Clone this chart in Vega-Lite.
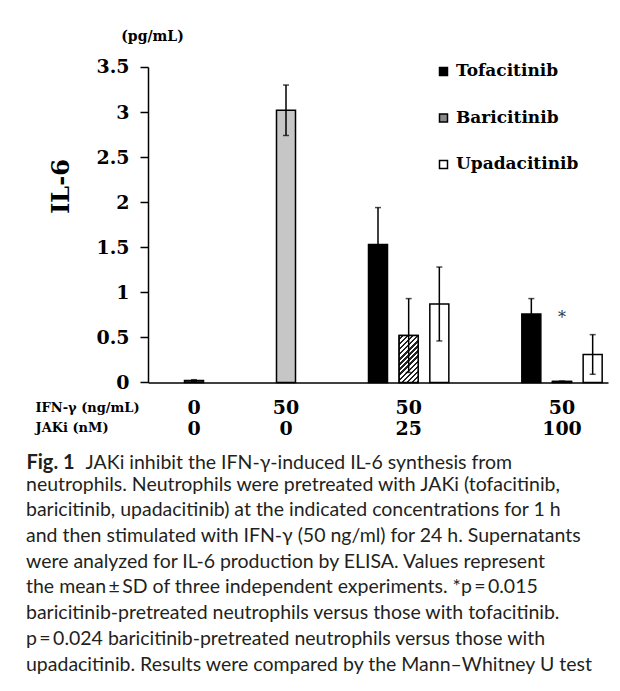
{
  "$schema": "https://vega.github.io/schema/vega-lite/v6.json",
  "width": 460,
  "height": 315.4,
  "padding": {"left": 26, "top": 30, "right": 12, "bottom": 5},
  "background": "white",
  "config": {"view": {"stroke": null}},
  "title": {
    "text": [
      "neutrophils. Neutrophils were pretreated with JAKi (tofacitinib,",
      "baricitinib, upadacitinib) at the indicated concentrations for 1 h",
      "and then stimulated with IFN-γ (50 ng/ml) for 24 h. Supernatants",
      "were analyzed for IL-6 production by ELISA. Values represent",
      "the mean\u2009±\u2009SD of three independent experiments. *p\u2009=\u20090.015",
      "baricitinib-pretreated neutrophils versus those with tofacitinib.",
      "p\u2009=\u20090.024 baricitinib-pretreated neutrophils versus those with",
      "upadacitinib. Results were compared by the Mann–Whitney U test"
    ],
    "orient": "bottom",
    "anchor": "start",
    "frame": "bounds",
    "offset": 3,
    "font": "Lato",
    "fontSize": 19.5,
    "fontWeight": "normal",
    "color": "#231f20",
    "lineHeight": 25.7,
    "limit": 1000
  },
  "data": {
    "values": [
      {"bar": "Control", "drug": "Control", "value": 0.02, "sd": 0.01},
      {"bar": "IFN-γ", "drug": "IFN-γ only", "value": 3.02, "sd": 0.28},
      {"bar": "25 nM Tofacitinib", "drug": "Tofacitinib", "value": 1.53, "sd": 0.41},
      {"bar": "25 nM Baricitinib", "drug": "Baricitinib", "value": 0.52, "sd": 0.41},
      {"bar": "25 nM Upadacitinib", "drug": "Upadacitinib", "value": 0.87, "sd": 0.41},
      {"bar": "100 nM Tofacitinib", "drug": "Tofacitinib", "value": 0.76, "sd": 0.17},
      {"bar": "100 nM Baricitinib", "drug": "Baricitinib", "value": 0.01, "sd": 0.005},
      {"bar": "100 nM Upadacitinib", "drug": "Upadacitinib", "value": 0.31, "sd": 0.22}
    ]
  },
  "resolve": {"scale": {"y": "shared", "x": "shared"}, "axis": {"y": "independent"}},
  "layer": [
    {
      "mark": {"type": "bar", "stroke": "black", "strokeWidth": 1.5},
      "encoding": {
        "x": {
          "field": "bar", "type": "nominal",
          "scale": {"type": "band", "domain": ["gap0", "Control", "gap2", "gap3", "IFN-γ", "gap5", "gap6", "25 nM Tofacitinib", "25 nM Baricitinib", "25 nM Upadacitinib", "gap10", "gap11", "100 nM Tofacitinib", "100 nM Baricitinib", "100 nM Upadacitinib"], "paddingInner": 0.38, "paddingOuter": 0.19},
          "axis": {
            "title": ["IFN-γ (ng/mL)", "JAKi (nM)"],
            "titleFont": "DejaVu Serif", "titleFontWeight": "bold", "titleFontSize": 13, "titleColor": "black",
            "titleAngle": 0, "titleAlign": "left", "titleBaseline": "top", "titleX": -113, "titleY": 19, "titleLineHeight": 20,
            "labelExpr": "datum.value === 'Control' ? ['0','0'] : datum.value === 'IFN-γ' ? ['50','0'] : datum.value === '25 nM Baricitinib' ? ['50','25'] : datum.value === '100 nM Baricitinib' ? ['50','100'] : ''",
            "labelAngle": 0, "labelFont": "DejaVu Serif", "labelFontWeight": "bold", "labelFontSize": 19, "labelColor": "black",
            "labelLineHeight": 21, "labelPadding": 16, "labelOverlap": false, "labelBound": false,
            "ticks": false, "domainColor": "black", "domainWidth": 1.5, "grid": false
          }
        },
        "y": {
          "field": "value", "type": "quantitative",
          "scale": {"domain": [0, 3.5], "nice": false, "zero": true},
          "axis": {
            "values": [0, 0.5, 1, 1.5, 2, 2.5, 3, 3.5], "format": "~g", "grid": false,
            "labelFont": "DejaVu Serif", "labelFontWeight": "bold", "labelFontSize": 19, "labelColor": "black", "labelPadding": 11,
            "tickSize": 8, "tickWidth": 1.5, "tickColor": "black", "domainColor": "black", "domainWidth": 1.5,
            "title": "(pg/mL)", "titleFont": "DejaVu Serif", "titleFontWeight": "bold", "titleFontSize": 14, "titleColor": "black",
            "titleAngle": 0, "titleX": 4, "titleY": -30, "titleAlign": "center", "titleBaseline": "middle"
          }
        },
        "fill": {
          "condition": [
            {"test": "datum.drug === 'Control'", "value": "#404040"},
            {"test": "datum.drug === 'IFN-γ only'", "value": "#c6c6c6"}
          ],
          "field": "drug", "type": "nominal",
          "scale": {"domain": ["Tofacitinib", "Baricitinib", "Upadacitinib"], "range": ["black", "#8a8a8a", "white"]},
          "legend": {
            "title": null, "orient": "none", "legendX": 287, "legendY": -4, "padding": 0,
            "symbolType": "square", "symbolSize": 64,
            "labelFont": "DejaVu Serif", "labelFontWeight": "bold", "labelFontSize": 17, "labelColor": "black",
            "labelOffset": 4, "rowPadding": 28.5, "labelLimit": 300,
            "encode": {
              "symbols": {
                "update": {
                  "stroke": {"value": "black"},
                  "strokeWidth": {"value": 1.2}
                }
              }
            }
          }
        }
      }
    },
    {
      "transform": [{"filter": "datum.drug === 'Baricitinib'"}],
      "mark": {"type": "bar", "stroke": "black", "strokeWidth": 1.5,
        "fill": {"gradient": "linear", "x1": 0, "y1": 0, "x2": 0.489, "y2": 1.207, "stops": [
          {"offset": 0, "color": "white"}, {"offset": 0.0423, "color": "white"}, {"offset": 0.0423, "color": "#222"}, {"offset": 0.0769, "color": "#222"},
          {"offset": 0.0769, "color": "white"}, {"offset": 0.1192, "color": "white"}, {"offset": 0.1192, "color": "#222"}, {"offset": 0.1538, "color": "#222"},
          {"offset": 0.1538, "color": "white"}, {"offset": 0.1962, "color": "white"}, {"offset": 0.1962, "color": "#222"}, {"offset": 0.2308, "color": "#222"},
          {"offset": 0.2308, "color": "white"}, {"offset": 0.2731, "color": "white"}, {"offset": 0.2731, "color": "#222"}, {"offset": 0.3077, "color": "#222"},
          {"offset": 0.3077, "color": "white"}, {"offset": 0.35, "color": "white"}, {"offset": 0.35, "color": "#222"}, {"offset": 0.3846, "color": "#222"},
          {"offset": 0.3846, "color": "white"}, {"offset": 0.4269, "color": "white"}, {"offset": 0.4269, "color": "#222"}, {"offset": 0.4615, "color": "#222"},
          {"offset": 0.4615, "color": "white"}, {"offset": 0.5038, "color": "white"}, {"offset": 0.5038, "color": "#222"}, {"offset": 0.5385, "color": "#222"},
          {"offset": 0.5385, "color": "white"}, {"offset": 0.5808, "color": "white"}, {"offset": 0.5808, "color": "#222"}, {"offset": 0.6154, "color": "#222"},
          {"offset": 0.6154, "color": "white"}, {"offset": 0.6577, "color": "white"}, {"offset": 0.6577, "color": "#222"}, {"offset": 0.6923, "color": "#222"},
          {"offset": 0.6923, "color": "white"}, {"offset": 0.7346, "color": "white"}, {"offset": 0.7346, "color": "#222"}, {"offset": 0.7692, "color": "#222"},
          {"offset": 0.7692, "color": "white"}, {"offset": 0.8115, "color": "white"}, {"offset": 0.8115, "color": "#222"}, {"offset": 0.8462, "color": "#222"},
          {"offset": 0.8462, "color": "white"}, {"offset": 0.8885, "color": "white"}, {"offset": 0.8885, "color": "#222"}, {"offset": 0.9231, "color": "#222"},
          {"offset": 0.9231, "color": "white"}, {"offset": 0.9654, "color": "white"}, {"offset": 0.9654, "color": "#222"}, {"offset": 1, "color": "#222"}
        ]}
      },
      "encoding": {
        "x": {"field": "bar", "type": "nominal", "scale": {"type": "band", "domain": ["gap0", "Control", "gap2", "gap3", "IFN-γ", "gap5", "gap6", "25 nM Tofacitinib", "25 nM Baricitinib", "25 nM Upadacitinib", "gap10", "gap11", "100 nM Tofacitinib", "100 nM Baricitinib", "100 nM Upadacitinib"], "paddingInner": 0.38, "paddingOuter": 0.19}},
        "y": {
          "field": "value", "type": "quantitative",
          "scale": {"domain": [0, 3.5], "nice": false, "zero": true},
          "axis": {
            "orient": "left", "labels": false, "ticks": false, "domain": false, "grid": false,
            "title": "Fig. 1", "titleFont": "Lato", "titleFontWeight": "bold", "titleFontSize": 20, "titleColor": "#231f20",
            "titleAngle": 0, "titleX": -122, "titleY": 395.7, "titleAlign": "left", "titleBaseline": "middle"
          }
        }
      }
    },
    {
      "mark": {"type": "errorbar", "ticks": {"size": 6, "thickness": 1.5, "color": "black"}, "rule": {"strokeWidth": 1.5, "color": "black"}},
      "encoding": {
        "x": {"field": "bar", "type": "nominal", "scale": {"type": "band", "domain": ["gap0", "Control", "gap2", "gap3", "IFN-γ", "gap5", "gap6", "25 nM Tofacitinib", "25 nM Baricitinib", "25 nM Upadacitinib", "gap10", "gap11", "100 nM Tofacitinib", "100 nM Baricitinib", "100 nM Upadacitinib"], "paddingInner": 0.38, "paddingOuter": 0.19}},
        "y": {
          "field": "value", "type": "quantitative",
          "scale": {"domain": [0, 3.5], "nice": false, "zero": true},
          "axis": {
            "orient": "left", "labels": false, "ticks": false, "domain": false, "grid": false,
            "title": "JAKi inhibit the IFN-γ-induced IL-6 synthesis from", "titleFont": "Lato", "titleFontWeight": "normal", "titleFontSize": 19.5, "titleColor": "#231f20",
            "titleAngle": 0, "titleX": -63, "titleY": 395.7, "titleAlign": "left", "titleBaseline": "middle", "titleLimit": 1000
          }
        },
        "yError": {"field": "sd"}
      }
    },
    {
      "data": {"values": [{"bar": "100 nM Baricitinib", "pos": 0.72, "note": "*"}]},
      "mark": {"type": "text", "font": "DejaVu Serif", "fontSize": 16, "color": "#333333", "baseline": "middle"},
      "encoding": {
        "x": {"field": "bar", "type": "nominal", "scale": {"type": "band", "domain": ["gap0", "Control", "gap2", "gap3", "IFN-γ", "gap5", "gap6", "25 nM Tofacitinib", "25 nM Baricitinib", "25 nM Upadacitinib", "gap10", "gap11", "100 nM Tofacitinib", "100 nM Baricitinib", "100 nM Upadacitinib"], "paddingInner": 0.38, "paddingOuter": 0.19}},
        "y": {
          "field": "pos", "type": "quantitative",
          "scale": {"domain": [0, 3.5], "nice": false, "zero": true},
          "axis": {
            "orient": "left", "labels": false, "ticks": false, "domain": false, "grid": false,
            "title": "IL-6", "titleFont": "DejaVu Serif", "titleFontWeight": "bold", "titleFontSize": 24, "titleColor": "black",
            "titleAngle": 270, "titleX": -87, "titleY": 119, "titleAlign": "center", "titleBaseline": "middle"
          }
        },
        "text": {"field": "note"}
      }
    }
  ]
}
